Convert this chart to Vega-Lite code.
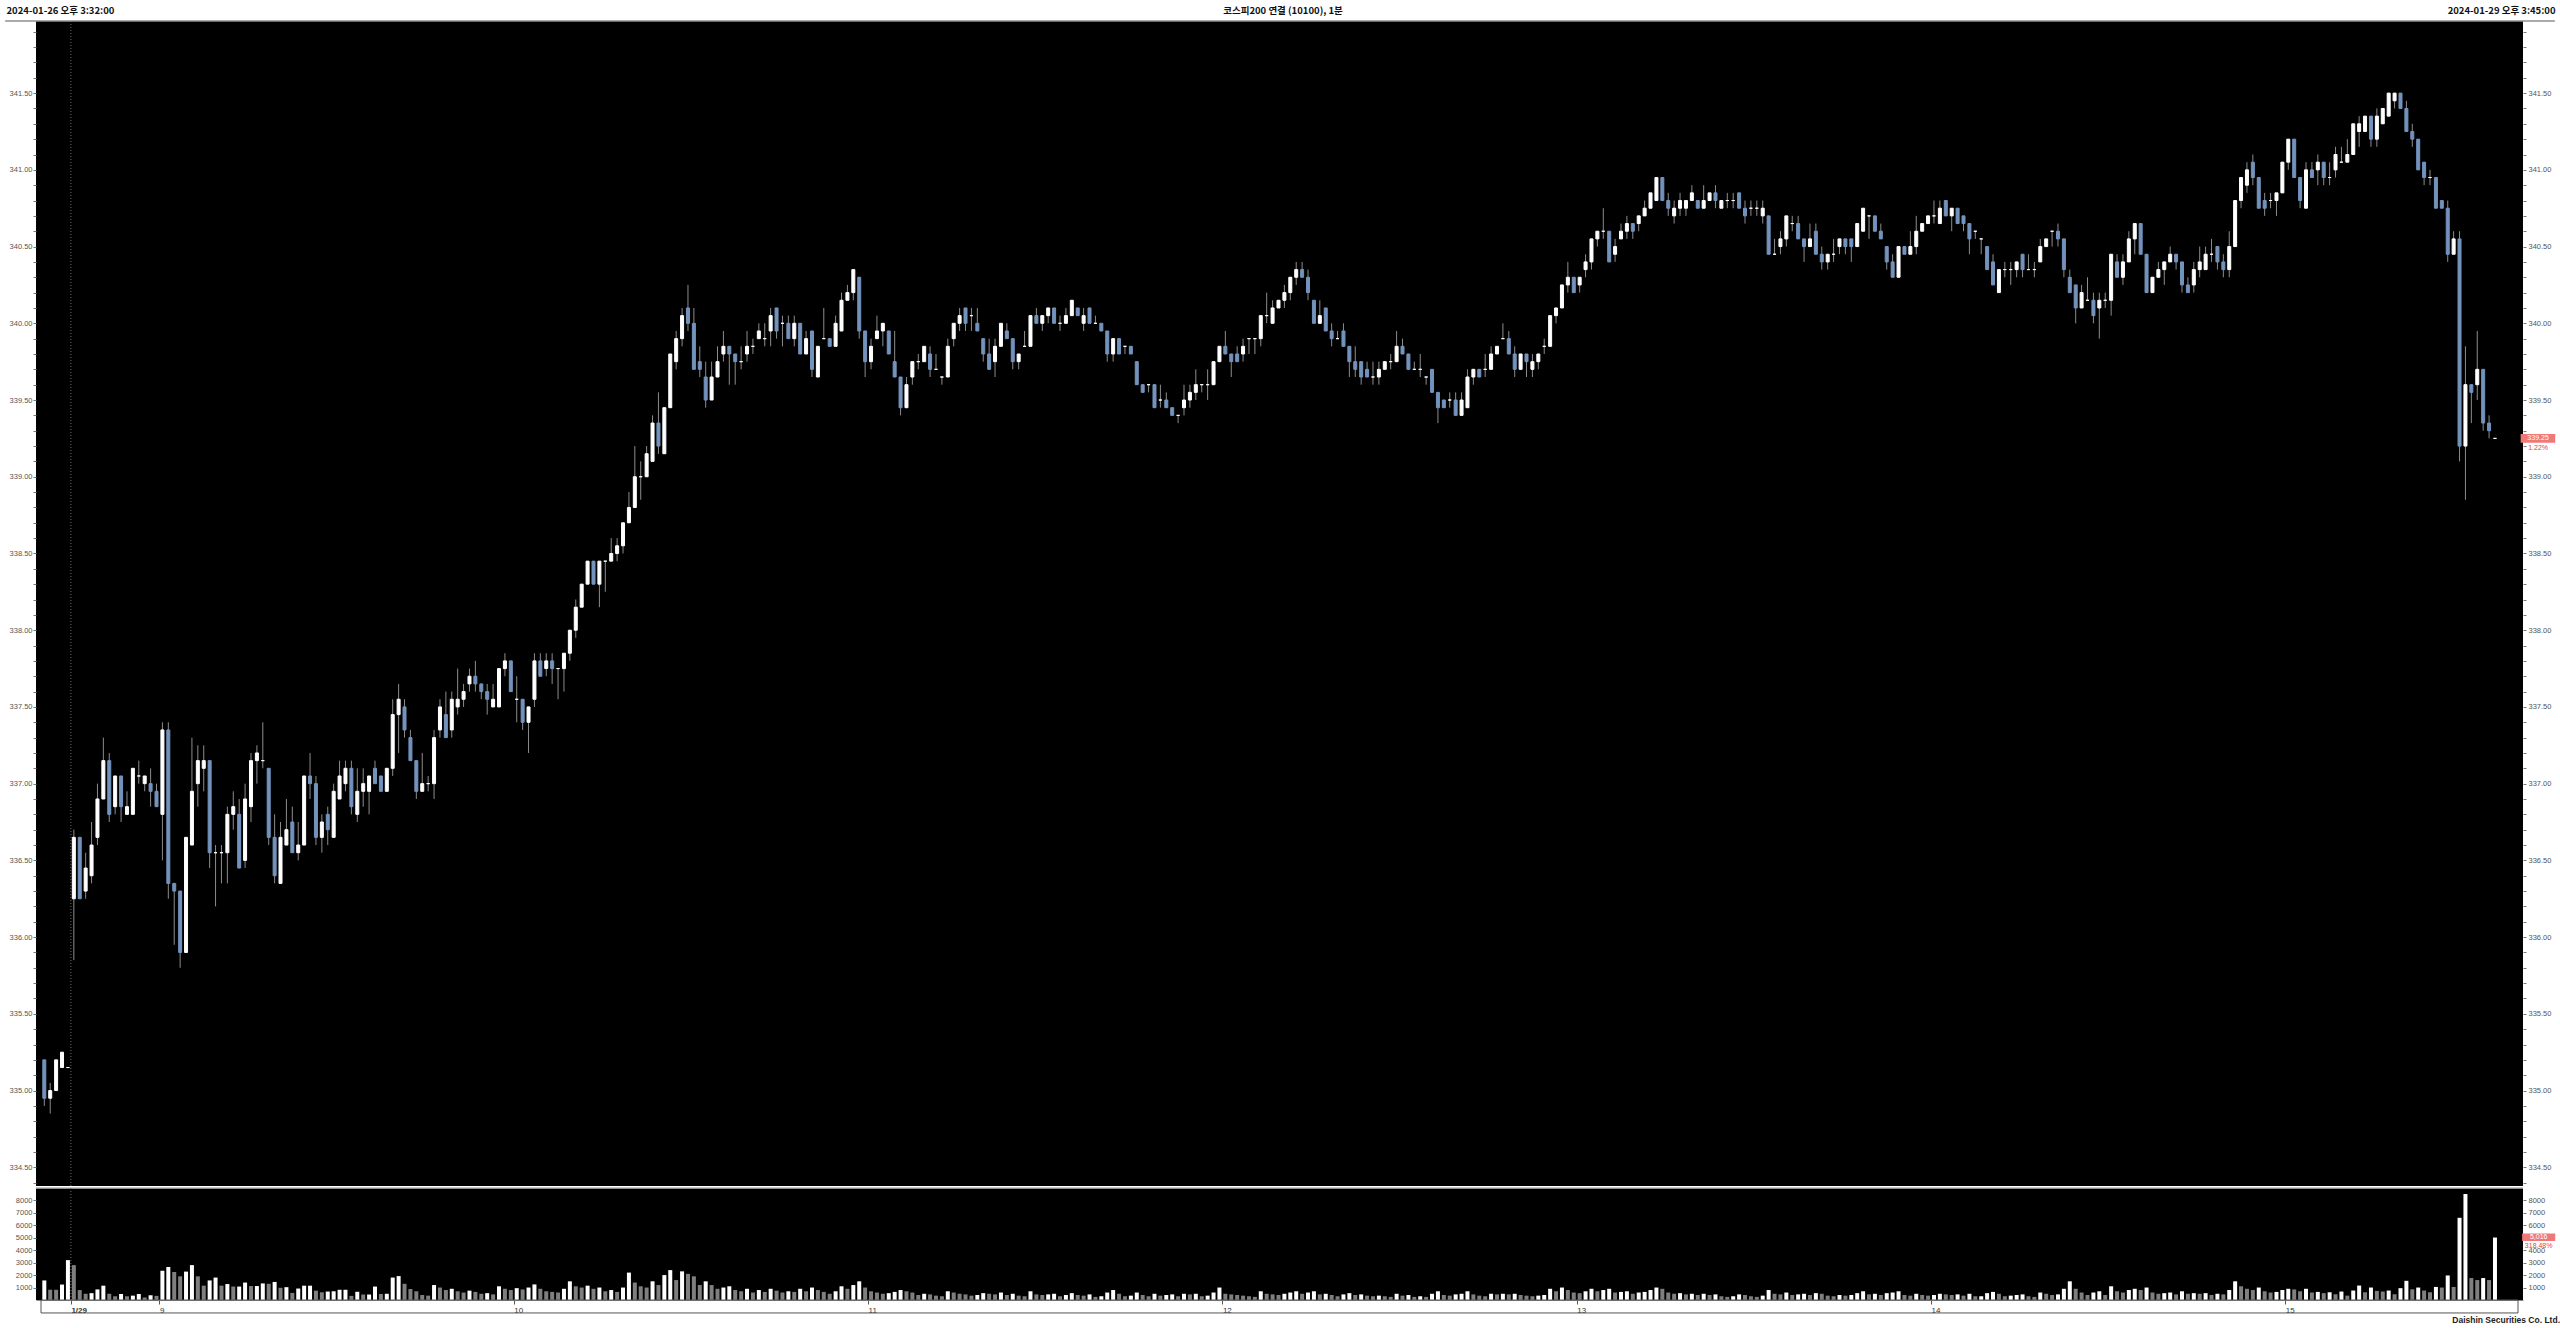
{
"$schema":"https://vega.github.io/schema/vega-lite/v6.json",
"padding":0,
"background":"#ffffff",
"spacing":0,
"config":{"view":{"stroke":null,"fill":"#000000"},"axis":{"grid":false,"title":null,"labelFont":"Liberation Sans","labelFontSize":7.5,"labelColor":"#555555","tickColor":"#777777","domain":false,"labelOverlap":false,"labelBound":false}},
"title":{"text":"Daishin Securities Co. Ltd.","orient":"bottom","anchor":"end","font":"Liberation Sans","fontSize":8.5,"fontWeight":"bold","color":"#222222","offset":2},
"datasets":{"k":[
{"i":0,"o":335.2,"h":335.2,"l":334.9,"c":334.95,"v":1570},
{"i":1,"o":334.95,"h":335.05,"l":334.85,"c":335.0,"v":825},
{"i":2,"o":335.0,"h":335.2,"l":335.0,"c":335.2,"v":820},
{"i":3,"o":335.15,"h":335.25,"l":335.15,"c":335.25,"v":1240},
{"i":4,"o":335.15,"h":335.15,"l":335.15,"c":335.15,"v":3200},
{"i":5,"o":336.25,"h":336.7,"l":335.85,"c":336.65,"v":2800},
{"i":6,"o":336.65,"h":336.65,"l":336.25,"c":336.25,"v":800},
{"i":7,"o":336.3,"h":336.55,"l":336.25,"c":336.45,"v":500},
{"i":8,"o":336.4,"h":336.75,"l":336.35,"c":336.6,"v":550},
{"i":9,"o":336.65,"h":337.0,"l":336.6,"c":336.9,"v":850},
{"i":10,"o":336.9,"h":337.3,"l":336.9,"c":337.15,"v":1150},
{"i":11,"o":337.15,"h":337.2,"l":336.75,"c":336.8,"v":500},
{"i":12,"o":336.85,"h":337.05,"l":336.8,"c":337.05,"v":300},
{"i":13,"o":337.05,"h":337.05,"l":336.75,"c":336.85,"v":480},
{"i":14,"o":336.8,"h":336.95,"l":336.8,"c":336.85,"v":300},
{"i":15,"o":336.8,"h":337.1,"l":336.8,"c":337.1,"v":350},
{"i":16,"o":337.05,"h":337.15,"l":337.0,"c":337.05,"v":480},
{"i":17,"o":337.0,"h":337.05,"l":336.95,"c":337.05,"v":200},
{"i":18,"o":337.0,"h":337.1,"l":336.85,"c":336.95,"v":380},
{"i":19,"o":336.95,"h":337.0,"l":336.85,"c":336.85,"v":330},
{"i":20,"o":336.8,"h":337.4,"l":336.5,"c":337.35,"v":2350},
{"i":21,"o":337.35,"h":337.4,"l":336.25,"c":336.35,"v":2650},
{"i":22,"o":336.35,"h":336.35,"l":335.95,"c":336.3,"v":2250},
{"i":23,"o":336.3,"h":336.3,"l":335.8,"c":335.9,"v":1900},
{"i":24,"o":335.9,"h":336.65,"l":335.9,"c":336.65,"v":2280},
{"i":25,"o":336.6,"h":337.3,"l":336.6,"c":336.95,"v":2800},
{"i":26,"o":337.0,"h":337.25,"l":336.85,"c":337.15,"v":1900},
{"i":27,"o":337.1,"h":337.25,"l":336.95,"c":337.15,"v":1150},
{"i":28,"o":337.15,"h":337.15,"l":336.45,"c":336.55,"v":1570},
{"i":29,"o":336.55,"h":336.6,"l":336.2,"c":336.55,"v":1800},
{"i":30,"o":336.55,"h":336.6,"l":336.35,"c":336.55,"v":1150},
{"i":31,"o":336.55,"h":336.85,"l":336.35,"c":336.8,"v":1280},
{"i":32,"o":336.8,"h":336.95,"l":336.7,"c":336.85,"v":1080},
{"i":33,"o":336.8,"h":336.9,"l":336.45,"c":336.45,"v":1080},
{"i":34,"o":336.5,"h":337.0,"l":336.45,"c":336.9,"v":1400},
{"i":35,"o":336.85,"h":337.2,"l":336.75,"c":337.15,"v":1120},
{"i":36,"o":337.15,"h":337.25,"l":337.0,"c":337.2,"v":1120},
{"i":37,"o":337.15,"h":337.4,"l":337.1,"c":337.15,"v":1330},
{"i":38,"o":337.1,"h":337.1,"l":336.6,"c":336.65,"v":1300},
{"i":39,"o":336.65,"h":336.8,"l":336.35,"c":336.4,"v":1450},
{"i":40,"o":336.35,"h":336.75,"l":336.35,"c":336.65,"v":980},
{"i":41,"o":336.6,"h":336.9,"l":336.6,"c":336.7,"v":1030},
{"i":42,"o":336.75,"h":336.85,"l":336.55,"c":336.55,"v":570},
{"i":43,"o":336.55,"h":336.75,"l":336.5,"c":336.6,"v":920},
{"i":44,"o":336.6,"h":337.05,"l":336.6,"c":337.05,"v":1150},
{"i":45,"o":337.05,"h":337.2,"l":336.9,"c":337.0,"v":1150},
{"i":46,"o":337.0,"h":337.05,"l":336.6,"c":336.65,"v":750},
{"i":47,"o":336.65,"h":336.8,"l":336.55,"c":336.75,"v":620},
{"i":48,"o":336.8,"h":336.85,"l":336.6,"c":336.7,"v":680},
{"i":49,"o":336.65,"h":337.0,"l":336.65,"c":336.95,"v":700},
{"i":50,"o":336.9,"h":337.15,"l":336.9,"c":337.05,"v":820},
{"i":51,"o":337.0,"h":337.15,"l":336.95,"c":337.1,"v":820},
{"i":52,"o":337.1,"h":337.15,"l":336.8,"c":336.85,"v":330},
{"i":53,"o":336.8,"h":337.1,"l":336.75,"c":336.95,"v":660},
{"i":54,"o":336.95,"h":337.1,"l":336.85,"c":337.0,"v":440},
{"i":55,"o":336.95,"h":337.05,"l":336.8,"c":337.05,"v":440},
{"i":56,"o":337.1,"h":337.15,"l":337.0,"c":337.0,"v":1080},
{"i":57,"o":337.05,"h":337.05,"l":336.95,"c":336.95,"v":480},
{"i":58,"o":336.95,"h":337.1,"l":336.95,"c":337.1,"v":500},
{"i":59,"o":337.1,"h":337.55,"l":337.05,"c":337.45,"v":1800},
{"i":60,"o":337.45,"h":337.65,"l":337.2,"c":337.55,"v":1920},
{"i":61,"o":337.5,"h":337.55,"l":337.3,"c":337.35,"v":1300},
{"i":62,"o":337.3,"h":337.35,"l":337.15,"c":337.15,"v":880},
{"i":63,"o":337.15,"h":337.15,"l":336.9,"c":336.95,"v":700},
{"i":64,"o":336.95,"h":337.2,"l":336.95,"c":337.0,"v":400},
{"i":65,"o":337.0,"h":337.05,"l":336.95,"c":337.0,"v":350},
{"i":66,"o":337.0,"h":337.35,"l":336.9,"c":337.3,"v":1200},
{"i":67,"o":337.35,"h":337.55,"l":337.3,"c":337.5,"v":1000},
{"i":68,"o":337.45,"h":337.6,"l":337.3,"c":337.3,"v":800},
{"i":69,"o":337.35,"h":337.6,"l":337.3,"c":337.55,"v":900},
{"i":70,"o":337.5,"h":337.75,"l":337.45,"c":337.55,"v":700},
{"i":71,"o":337.55,"h":337.65,"l":337.5,"c":337.6,"v":600},
{"i":72,"o":337.65,"h":337.75,"l":337.6,"c":337.7,"v":750},
{"i":73,"o":337.7,"h":337.8,"l":337.6,"c":337.65,"v":650},
{"i":74,"o":337.65,"h":337.65,"l":337.55,"c":337.6,"v":500},
{"i":75,"o":337.6,"h":337.65,"l":337.45,"c":337.55,"v":550},
{"i":76,"o":337.5,"h":337.65,"l":337.5,"c":337.55,"v":450},
{"i":77,"o":337.5,"h":337.75,"l":337.5,"c":337.75,"v":1100},
{"i":78,"o":337.75,"h":337.85,"l":337.7,"c":337.8,"v":900},
{"i":79,"o":337.8,"h":337.8,"l":337.6,"c":337.6,"v":800},
{"i":80,"o":337.55,"h":337.7,"l":337.4,"c":337.55,"v":950},
{"i":81,"o":337.55,"h":337.55,"l":337.35,"c":337.4,"v":850},
{"i":82,"o":337.4,"h":337.5,"l":337.2,"c":337.5,"v":1000},
{"i":83,"o":337.55,"h":337.85,"l":337.5,"c":337.8,"v":1250},
{"i":84,"o":337.8,"h":337.85,"l":337.7,"c":337.7,"v":900},
{"i":85,"o":337.75,"h":337.85,"l":337.7,"c":337.8,"v":700},
{"i":86,"o":337.8,"h":337.85,"l":337.65,"c":337.75,"v":650},
{"i":87,"o":337.75,"h":337.75,"l":337.55,"c":337.75,"v":600},
{"i":88,"o":337.75,"h":337.85,"l":337.6,"c":337.85,"v":900},
{"i":89,"o":337.85,"h":338.0,"l":337.8,"c":338.0,"v":1500},
{"i":90,"o":338.0,"h":338.2,"l":337.95,"c":338.15,"v":1100},
{"i":91,"o":338.15,"h":338.3,"l":338.15,"c":338.3,"v":1000},
{"i":92,"o":338.3,"h":338.45,"l":338.3,"c":338.45,"v":1150},
{"i":93,"o":338.45,"h":338.45,"l":338.3,"c":338.3,"v":900},
{"i":94,"o":338.3,"h":338.45,"l":338.15,"c":338.45,"v":1000},
{"i":95,"o":338.45,"h":338.45,"l":338.25,"c":338.45,"v":700},
{"i":96,"o":338.45,"h":338.6,"l":338.45,"c":338.5,"v":800},
{"i":97,"o":338.5,"h":338.6,"l":338.45,"c":338.55,"v":650},
{"i":98,"o":338.55,"h":338.7,"l":338.5,"c":338.7,"v":1000},
{"i":99,"o":338.7,"h":338.9,"l":338.7,"c":338.8,"v":2200},
{"i":100,"o":338.8,"h":339.2,"l":338.8,"c":339.0,"v":1400},
{"i":101,"o":339.0,"h":339.1,"l":338.85,"c":339.0,"v":1100},
{"i":102,"o":339.0,"h":339.2,"l":339.0,"c":339.15,"v":1000},
{"i":103,"o":339.1,"h":339.4,"l":339.1,"c":339.35,"v":1500},
{"i":104,"o":339.35,"h":339.55,"l":339.15,"c":339.2,"v":1200},
{"i":105,"o":339.15,"h":339.45,"l":339.15,"c":339.45,"v":2000},
{"i":106,"o":339.45,"h":339.8,"l":339.45,"c":339.8,"v":2400},
{"i":107,"o":339.75,"h":339.95,"l":339.7,"c":339.9,"v":1600},
{"i":108,"o":339.9,"h":340.1,"l":339.85,"c":340.05,"v":2300},
{"i":109,"o":340.1,"h":340.25,"l":339.95,"c":340.0,"v":2100},
{"i":110,"o":340.0,"h":340.1,"l":339.7,"c":339.7,"v":1900},
{"i":111,"o":339.75,"h":339.85,"l":339.65,"c":339.7,"v":1200},
{"i":112,"o":339.65,"h":339.75,"l":339.45,"c":339.5,"v":1500},
{"i":113,"o":339.5,"h":339.75,"l":339.5,"c":339.65,"v":1200},
{"i":114,"o":339.65,"h":339.85,"l":339.65,"c":339.75,"v":900},
{"i":115,"o":339.8,"h":339.95,"l":339.75,"c":339.85,"v":1000},
{"i":116,"o":339.85,"h":339.85,"l":339.6,"c":339.8,"v":1100},
{"i":117,"o":339.8,"h":339.8,"l":339.6,"c":339.75,"v":800},
{"i":118,"o":339.75,"h":339.85,"l":339.7,"c":339.75,"v":700},
{"i":119,"o":339.8,"h":339.95,"l":339.75,"c":339.85,"v":900},
{"i":120,"o":339.85,"h":339.9,"l":339.8,"c":339.85,"v":600},
{"i":121,"o":339.9,"h":340.0,"l":339.9,"c":339.95,"v":800},
{"i":122,"o":339.9,"h":340.0,"l":339.85,"c":339.9,"v":650},
{"i":123,"o":339.95,"h":340.1,"l":339.85,"c":340.05,"v":900},
{"i":124,"o":340.1,"h":340.1,"l":339.9,"c":339.95,"v":750},
{"i":125,"o":340.0,"h":340.05,"l":339.85,"c":340.0,"v":600},
{"i":126,"o":340.0,"h":340.05,"l":339.9,"c":339.9,"v":700},
{"i":127,"o":339.9,"h":340.05,"l":339.85,"c":340.0,"v":650},
{"i":128,"o":340.0,"h":340.0,"l":339.8,"c":339.8,"v":900},
{"i":129,"o":339.8,"h":339.95,"l":339.8,"c":339.9,"v":700},
{"i":130,"o":339.95,"h":339.95,"l":339.65,"c":339.7,"v":1000},
{"i":131,"o":339.65,"h":339.85,"l":339.65,"c":339.85,"v":800},
{"i":132,"o":339.9,"h":340.1,"l":339.9,"c":339.9,"v":650},
{"i":133,"o":339.9,"h":339.9,"l":339.85,"c":339.85,"v":500},
{"i":134,"o":339.85,"h":340.05,"l":339.85,"c":340.0,"v":700},
{"i":135,"o":339.95,"h":340.2,"l":339.95,"c":340.15,"v":1100},
{"i":136,"o":340.15,"h":340.25,"l":340.15,"c":340.2,"v":900},
{"i":137,"o":340.2,"h":340.35,"l":340.15,"c":340.35,"v":1200},
{"i":138,"o":340.3,"h":340.3,"l":339.9,"c":339.95,"v":1500},
{"i":139,"o":339.95,"h":339.95,"l":339.65,"c":339.75,"v":1000},
{"i":140,"o":339.75,"h":339.9,"l":339.7,"c":339.85,"v":700},
{"i":141,"o":339.9,"h":340.05,"l":339.9,"c":339.95,"v":600},
{"i":142,"o":339.95,"h":340.0,"l":339.85,"c":340.0,"v":500},
{"i":143,"o":339.95,"h":339.95,"l":339.8,"c":339.8,"v":550},
{"i":144,"o":339.75,"h":339.95,"l":339.65,"c":339.65,"v":650},
{"i":145,"o":339.65,"h":339.65,"l":339.4,"c":339.45,"v":800},
{"i":146,"o":339.45,"h":339.65,"l":339.45,"c":339.6,"v":700},
{"i":147,"o":339.65,"h":339.75,"l":339.6,"c":339.75,"v":600},
{"i":148,"o":339.75,"h":339.8,"l":339.7,"c":339.75,"v":400},
{"i":149,"o":339.75,"h":339.85,"l":339.75,"c":339.85,"v":500},
{"i":150,"o":339.8,"h":339.85,"l":339.65,"c":339.7,"v":450},
{"i":151,"o":339.7,"h":339.8,"l":339.7,"c":339.7,"v":350},
{"i":152,"o":339.65,"h":339.65,"l":339.6,"c":339.65,"v":300},
{"i":153,"o":339.65,"h":339.9,"l":339.65,"c":339.85,"v":700},
{"i":154,"o":339.9,"h":340.0,"l":339.85,"c":340.0,"v":600},
{"i":155,"o":340.0,"h":340.1,"l":339.95,"c":340.05,"v":500},
{"i":156,"o":340.1,"h":340.1,"l":339.95,"c":340.0,"v":450},
{"i":157,"o":340.05,"h":340.1,"l":339.95,"c":340.05,"v":350},
{"i":158,"o":340.0,"h":340.1,"l":339.95,"c":339.95,"v":400},
{"i":159,"o":339.9,"h":339.9,"l":339.75,"c":339.8,"v":550},
{"i":160,"o":339.8,"h":339.9,"l":339.7,"c":339.7,"v":500},
{"i":161,"o":339.75,"h":339.9,"l":339.65,"c":339.85,"v":450},
{"i":162,"o":339.85,"h":340.0,"l":339.85,"c":340.0,"v":600},
{"i":163,"o":339.95,"h":340.0,"l":339.9,"c":339.9,"v":400},
{"i":164,"o":339.9,"h":339.9,"l":339.7,"c":339.75,"v":500},
{"i":165,"o":339.75,"h":339.8,"l":339.7,"c":339.8,"v":350},
{"i":166,"o":339.85,"h":339.95,"l":339.85,"c":339.85,"v":300},
{"i":167,"o":339.85,"h":340.05,"l":339.85,"c":340.05,"v":700},
{"i":168,"o":340.05,"h":340.1,"l":340.0,"c":340.0,"v":450},
{"i":169,"o":340.0,"h":340.05,"l":339.95,"c":340.05,"v":400},
{"i":170,"o":340.05,"h":340.1,"l":340.0,"c":340.1,"v":450},
{"i":171,"o":340.1,"h":340.1,"l":340.0,"c":340.0,"v":500},
{"i":172,"o":340.0,"h":340.05,"l":339.95,"c":340.0,"v":300},
{"i":173,"o":340.0,"h":340.1,"l":340.0,"c":340.05,"v":400},
{"i":174,"o":340.05,"h":340.15,"l":340.05,"c":340.15,"v":550},
{"i":175,"o":340.1,"h":340.1,"l":340.05,"c":340.05,"v":400},
{"i":176,"o":340.0,"h":340.1,"l":339.95,"c":340.05,"v":350},
{"i":177,"o":340.1,"h":340.1,"l":340.0,"c":340.0,"v":450},
{"i":178,"o":340.0,"h":340.05,"l":340.0,"c":340.0,"v":250},
{"i":179,"o":340.0,"h":340.0,"l":339.95,"c":339.95,"v":300},
{"i":180,"o":339.95,"h":339.95,"l":339.75,"c":339.8,"v":600},
{"i":181,"o":339.8,"h":339.9,"l":339.75,"c":339.9,"v":800},
{"i":182,"o":339.9,"h":339.9,"l":339.8,"c":339.8,"v":500},
{"i":183,"o":339.85,"h":339.85,"l":339.8,"c":339.85,"v":300},
{"i":184,"o":339.85,"h":339.85,"l":339.8,"c":339.8,"v":350},
{"i":185,"o":339.75,"h":339.75,"l":339.6,"c":339.6,"v":600},
{"i":186,"o":339.6,"h":339.6,"l":339.55,"c":339.55,"v":400},
{"i":187,"o":339.6,"h":339.6,"l":339.55,"c":339.6,"v":300},
{"i":188,"o":339.6,"h":339.6,"l":339.45,"c":339.45,"v":500},
{"i":189,"o":339.5,"h":339.6,"l":339.45,"c":339.5,"v":350},
{"i":190,"o":339.5,"h":339.55,"l":339.45,"c":339.45,"v":400},
{"i":191,"o":339.45,"h":339.45,"l":339.4,"c":339.4,"v":450},
{"i":192,"o":339.4,"h":339.4,"l":339.35,"c":339.4,"v":300},
{"i":193,"o":339.45,"h":339.6,"l":339.4,"c":339.5,"v":500},
{"i":194,"o":339.5,"h":339.6,"l":339.45,"c":339.55,"v":450},
{"i":195,"o":339.55,"h":339.7,"l":339.5,"c":339.6,"v":500},
{"i":196,"o":339.6,"h":339.6,"l":339.55,"c":339.6,"v":300},
{"i":197,"o":339.6,"h":339.7,"l":339.5,"c":339.6,"v":350},
{"i":198,"o":339.6,"h":339.75,"l":339.6,"c":339.75,"v":600},
{"i":199,"o":339.75,"h":339.85,"l":339.75,"c":339.85,"v":1000},
{"i":200,"o":339.85,"h":339.95,"l":339.8,"c":339.8,"v":500},
{"i":201,"o":339.8,"h":339.8,"l":339.65,"c":339.75,"v":450},
{"i":202,"o":339.8,"h":339.85,"l":339.75,"c":339.75,"v":400},
{"i":203,"o":339.8,"h":339.9,"l":339.75,"c":339.85,"v":350},
{"i":204,"o":339.9,"h":339.9,"l":339.8,"c":339.9,"v":300},
{"i":205,"o":339.9,"h":339.9,"l":339.8,"c":339.9,"v":250},
{"i":206,"o":339.9,"h":340.05,"l":339.85,"c":340.05,"v":700},
{"i":207,"o":340.05,"h":340.2,"l":340.0,"c":340.05,"v":500},
{"i":208,"o":340.0,"h":340.15,"l":340.0,"c":340.1,"v":450},
{"i":209,"o":340.1,"h":340.15,"l":340.1,"c":340.15,"v":400},
{"i":210,"o":340.15,"h":340.25,"l":340.1,"c":340.2,"v":500},
{"i":211,"o":340.2,"h":340.3,"l":340.15,"c":340.3,"v":600},
{"i":212,"o":340.3,"h":340.4,"l":340.25,"c":340.35,"v":700},
{"i":213,"o":340.35,"h":340.4,"l":340.3,"c":340.3,"v":500},
{"i":214,"o":340.3,"h":340.35,"l":340.15,"c":340.2,"v":600},
{"i":215,"o":340.15,"h":340.15,"l":340.0,"c":340.0,"v":700},
{"i":216,"o":340.0,"h":340.15,"l":340.0,"c":340.05,"v":450},
{"i":217,"o":340.1,"h":340.1,"l":339.95,"c":339.95,"v":500},
{"i":218,"o":339.95,"h":340.0,"l":339.85,"c":339.9,"v":400},
{"i":219,"o":339.9,"h":339.95,"l":339.9,"c":339.9,"v":300},
{"i":220,"o":339.95,"h":340.0,"l":339.85,"c":339.85,"v":450},
{"i":221,"o":339.85,"h":339.85,"l":339.65,"c":339.75,"v":550},
{"i":222,"o":339.75,"h":339.85,"l":339.65,"c":339.7,"v":400},
{"i":223,"o":339.75,"h":339.75,"l":339.6,"c":339.65,"v":450},
{"i":224,"o":339.7,"h":339.75,"l":339.65,"c":339.65,"v":350},
{"i":225,"o":339.65,"h":339.75,"l":339.6,"c":339.65,"v":300},
{"i":226,"o":339.65,"h":339.75,"l":339.6,"c":339.7,"v":350},
{"i":227,"o":339.7,"h":339.75,"l":339.7,"c":339.75,"v":300},
{"i":228,"o":339.75,"h":339.8,"l":339.7,"c":339.75,"v":250},
{"i":229,"o":339.75,"h":339.95,"l":339.75,"c":339.85,"v":500},
{"i":230,"o":339.85,"h":339.9,"l":339.8,"c":339.8,"v":350},
{"i":231,"o":339.8,"h":339.8,"l":339.7,"c":339.7,"v":400},
{"i":232,"o":339.7,"h":339.75,"l":339.7,"c":339.7,"v":250},
{"i":233,"o":339.7,"h":339.8,"l":339.65,"c":339.7,"v":300},
{"i":234,"o":339.65,"h":339.65,"l":339.6,"c":339.65,"v":250},
{"i":235,"o":339.7,"h":339.7,"l":339.55,"c":339.55,"v":500},
{"i":236,"o":339.55,"h":339.55,"l":339.35,"c":339.45,"v":700},
{"i":237,"o":339.5,"h":339.5,"l":339.45,"c":339.45,"v":400},
{"i":238,"o":339.5,"h":339.55,"l":339.45,"c":339.5,"v":350},
{"i":239,"o":339.5,"h":339.55,"l":339.4,"c":339.4,"v":450},
{"i":240,"o":339.4,"h":339.55,"l":339.4,"c":339.5,"v":500},
{"i":241,"o":339.45,"h":339.7,"l":339.45,"c":339.65,"v":700},
{"i":242,"o":339.65,"h":339.7,"l":339.6,"c":339.7,"v":450},
{"i":243,"o":339.7,"h":339.7,"l":339.65,"c":339.65,"v":350},
{"i":244,"o":339.7,"h":339.8,"l":339.65,"c":339.7,"v":300},
{"i":245,"o":339.7,"h":339.85,"l":339.7,"c":339.8,"v":500},
{"i":246,"o":339.8,"h":339.85,"l":339.8,"c":339.85,"v":450},
{"i":247,"o":339.9,"h":340.0,"l":339.9,"c":339.9,"v":500},
{"i":248,"o":339.9,"h":339.95,"l":339.8,"c":339.8,"v":450},
{"i":249,"o":339.8,"h":339.85,"l":339.65,"c":339.7,"v":500},
{"i":250,"o":339.7,"h":339.8,"l":339.7,"c":339.8,"v":400},
{"i":251,"o":339.8,"h":339.8,"l":339.65,"c":339.75,"v":350},
{"i":252,"o":339.7,"h":339.8,"l":339.65,"c":339.75,"v":300},
{"i":253,"o":339.75,"h":339.8,"l":339.7,"c":339.8,"v":350},
{"i":254,"o":339.85,"h":339.9,"l":339.8,"c":339.85,"v":400},
{"i":255,"o":339.85,"h":340.05,"l":339.85,"c":340.05,"v":900},
{"i":256,"o":340.05,"h":340.1,"l":340.0,"c":340.1,"v":700},
{"i":257,"o":340.1,"h":340.25,"l":340.1,"c":340.25,"v":1000},
{"i":258,"o":340.25,"h":340.4,"l":340.2,"c":340.3,"v":800},
{"i":259,"o":340.3,"h":340.3,"l":340.2,"c":340.2,"v":600},
{"i":260,"o":340.25,"h":340.3,"l":340.2,"c":340.3,"v":550},
{"i":261,"o":340.35,"h":340.45,"l":340.3,"c":340.4,"v":700},
{"i":262,"o":340.4,"h":340.55,"l":340.35,"c":340.55,"v":900},
{"i":263,"o":340.55,"h":340.6,"l":340.5,"c":340.6,"v":700},
{"i":264,"o":340.6,"h":340.75,"l":340.55,"c":340.6,"v":800},
{"i":265,"o":340.6,"h":340.6,"l":340.4,"c":340.4,"v":900},
{"i":266,"o":340.45,"h":340.55,"l":340.4,"c":340.5,"v":600},
{"i":267,"o":340.55,"h":340.65,"l":340.55,"c":340.6,"v":650},
{"i":268,"o":340.6,"h":340.7,"l":340.55,"c":340.65,"v":700},
{"i":269,"o":340.65,"h":340.65,"l":340.55,"c":340.6,"v":500},
{"i":270,"o":340.65,"h":340.7,"l":340.6,"c":340.7,"v":600},
{"i":271,"o":340.7,"h":340.8,"l":340.7,"c":340.75,"v":650},
{"i":272,"o":340.75,"h":340.85,"l":340.75,"c":340.85,"v":800},
{"i":273,"o":340.8,"h":340.95,"l":340.8,"c":340.95,"v":1000},
{"i":274,"o":340.95,"h":340.95,"l":340.8,"c":340.8,"v":900},
{"i":275,"o":340.8,"h":340.85,"l":340.7,"c":340.75,"v":600},
{"i":276,"o":340.7,"h":340.8,"l":340.65,"c":340.75,"v":500},
{"i":277,"o":340.75,"h":340.85,"l":340.7,"c":340.8,"v":550},
{"i":278,"o":340.75,"h":340.8,"l":340.7,"c":340.8,"v":450},
{"i":279,"o":340.8,"h":340.9,"l":340.8,"c":340.85,"v":500},
{"i":280,"o":340.8,"h":340.8,"l":340.75,"c":340.75,"v":400},
{"i":281,"o":340.75,"h":340.9,"l":340.75,"c":340.8,"v":500},
{"i":282,"o":340.8,"h":340.85,"l":340.8,"c":340.85,"v":400},
{"i":283,"o":340.85,"h":340.9,"l":340.75,"c":340.8,"v":450},
{"i":284,"o":340.75,"h":340.8,"l":340.75,"c":340.8,"v":300},
{"i":285,"o":340.8,"h":340.85,"l":340.75,"c":340.8,"v":250},
{"i":286,"o":340.8,"h":340.85,"l":340.75,"c":340.8,"v":300},
{"i":287,"o":340.85,"h":340.85,"l":340.75,"c":340.75,"v":450},
{"i":288,"o":340.75,"h":340.8,"l":340.65,"c":340.7,"v":400},
{"i":289,"o":340.75,"h":340.8,"l":340.7,"c":340.75,"v":300},
{"i":290,"o":340.75,"h":340.8,"l":340.7,"c":340.75,"v":250},
{"i":291,"o":340.7,"h":340.8,"l":340.65,"c":340.75,"v":350},
{"i":292,"o":340.7,"h":340.7,"l":340.45,"c":340.45,"v":800},
{"i":293,"o":340.45,"h":340.55,"l":340.45,"c":340.45,"v":500},
{"i":294,"o":340.5,"h":340.6,"l":340.45,"c":340.55,"v":450},
{"i":295,"o":340.55,"h":340.7,"l":340.5,"c":340.7,"v":600},
{"i":296,"o":340.65,"h":340.7,"l":340.6,"c":340.65,"v":400},
{"i":297,"o":340.65,"h":340.7,"l":340.55,"c":340.55,"v":450},
{"i":298,"o":340.55,"h":340.55,"l":340.4,"c":340.5,"v":500},
{"i":299,"o":340.5,"h":340.65,"l":340.5,"c":340.55,"v":400},
{"i":300,"o":340.6,"h":340.65,"l":340.45,"c":340.45,"v":550},
{"i":301,"o":340.45,"h":340.5,"l":340.35,"c":340.4,"v":500},
{"i":302,"o":340.4,"h":340.45,"l":340.35,"c":340.45,"v":350},
{"i":303,"o":340.45,"h":340.55,"l":340.4,"c":340.45,"v":300},
{"i":304,"o":340.5,"h":340.55,"l":340.45,"c":340.55,"v":400},
{"i":305,"o":340.55,"h":340.55,"l":340.45,"c":340.5,"v":350},
{"i":306,"o":340.55,"h":340.55,"l":340.4,"c":340.5,"v":400},
{"i":307,"o":340.5,"h":340.65,"l":340.5,"c":340.65,"v":550},
{"i":308,"o":340.6,"h":340.75,"l":340.6,"c":340.75,"v":700},
{"i":309,"o":340.7,"h":340.7,"l":340.55,"c":340.7,"v":450},
{"i":310,"o":340.7,"h":340.7,"l":340.6,"c":340.6,"v":500},
{"i":311,"o":340.6,"h":340.65,"l":340.55,"c":340.55,"v":400},
{"i":312,"o":340.5,"h":340.5,"l":340.35,"c":340.4,"v":550},
{"i":313,"o":340.4,"h":340.45,"l":340.3,"c":340.3,"v":600},
{"i":314,"o":340.3,"h":340.5,"l":340.3,"c":340.5,"v":700},
{"i":315,"o":340.5,"h":340.5,"l":340.45,"c":340.45,"v":400},
{"i":316,"o":340.45,"h":340.6,"l":340.45,"c":340.5,"v":350},
{"i":317,"o":340.5,"h":340.7,"l":340.45,"c":340.6,"v":500},
{"i":318,"o":340.6,"h":340.65,"l":340.6,"c":340.65,"v":400},
{"i":319,"o":340.65,"h":340.7,"l":340.65,"c":340.7,"v":350},
{"i":320,"o":340.7,"h":340.8,"l":340.65,"c":340.7,"v":400},
{"i":321,"o":340.65,"h":340.8,"l":340.65,"c":340.75,"v":500},
{"i":322,"o":340.8,"h":340.8,"l":340.7,"c":340.7,"v":450},
{"i":323,"o":340.7,"h":340.75,"l":340.6,"c":340.75,"v":400},
{"i":324,"o":340.75,"h":340.75,"l":340.65,"c":340.65,"v":450},
{"i":325,"o":340.7,"h":340.7,"l":340.6,"c":340.65,"v":350},
{"i":326,"o":340.65,"h":340.65,"l":340.45,"c":340.55,"v":500},
{"i":327,"o":340.6,"h":340.6,"l":340.55,"c":340.6,"v":300},
{"i":328,"o":340.55,"h":340.55,"l":340.45,"c":340.55,"v":300},
{"i":329,"o":340.5,"h":340.5,"l":340.35,"c":340.35,"v":550},
{"i":330,"o":340.4,"h":340.45,"l":340.25,"c":340.25,"v":650},
{"i":331,"o":340.2,"h":340.35,"l":340.2,"c":340.35,"v":500},
{"i":332,"o":340.35,"h":340.4,"l":340.3,"c":340.35,"v":300},
{"i":333,"o":340.35,"h":340.4,"l":340.25,"c":340.35,"v":350},
{"i":334,"o":340.35,"h":340.4,"l":340.3,"c":340.4,"v":400},
{"i":335,"o":340.45,"h":340.45,"l":340.3,"c":340.35,"v":450},
{"i":336,"o":340.35,"h":340.45,"l":340.35,"c":340.35,"v":300},
{"i":337,"o":340.35,"h":340.4,"l":340.3,"c":340.35,"v":250},
{"i":338,"o":340.4,"h":340.55,"l":340.4,"c":340.5,"v":600},
{"i":339,"o":340.5,"h":340.55,"l":340.5,"c":340.55,"v":500},
{"i":340,"o":340.6,"h":340.6,"l":340.5,"c":340.6,"v":400},
{"i":341,"o":340.6,"h":340.65,"l":340.5,"c":340.55,"v":450},
{"i":342,"o":340.55,"h":340.55,"l":340.3,"c":340.35,"v":900},
{"i":343,"o":340.3,"h":340.35,"l":340.2,"c":340.2,"v":1500},
{"i":344,"o":340.25,"h":340.25,"l":340.0,"c":340.1,"v":900},
{"i":345,"o":340.1,"h":340.25,"l":340.1,"c":340.2,"v":600},
{"i":346,"o":340.15,"h":340.3,"l":340.15,"c":340.15,"v":400},
{"i":347,"o":340.15,"h":340.2,"l":340.0,"c":340.05,"v":600},
{"i":348,"o":340.1,"h":340.2,"l":339.9,"c":340.15,"v":700},
{"i":349,"o":340.15,"h":340.2,"l":340.1,"c":340.15,"v":400},
{"i":350,"o":340.15,"h":340.45,"l":340.05,"c":340.45,"v":1100},
{"i":351,"o":340.4,"h":340.45,"l":340.3,"c":340.3,"v":700},
{"i":352,"o":340.3,"h":340.45,"l":340.25,"c":340.4,"v":600},
{"i":353,"o":340.4,"h":340.6,"l":340.4,"c":340.55,"v":800},
{"i":354,"o":340.55,"h":340.65,"l":340.45,"c":340.65,"v":900},
{"i":355,"o":340.65,"h":340.65,"l":340.45,"c":340.45,"v":800},
{"i":356,"o":340.45,"h":340.45,"l":340.2,"c":340.2,"v":1000},
{"i":357,"o":340.2,"h":340.3,"l":340.2,"c":340.3,"v":600},
{"i":358,"o":340.3,"h":340.4,"l":340.3,"c":340.35,"v":500},
{"i":359,"o":340.35,"h":340.4,"l":340.25,"c":340.4,"v":550},
{"i":360,"o":340.4,"h":340.5,"l":340.4,"c":340.45,"v":600},
{"i":361,"o":340.45,"h":340.45,"l":340.35,"c":340.4,"v":450},
{"i":362,"o":340.4,"h":340.4,"l":340.2,"c":340.25,"v":700},
{"i":363,"o":340.25,"h":340.3,"l":340.2,"c":340.2,"v":500},
{"i":364,"o":340.25,"h":340.4,"l":340.2,"c":340.35,"v":550},
{"i":365,"o":340.35,"h":340.5,"l":340.3,"c":340.4,"v":500},
{"i":366,"o":340.35,"h":340.5,"l":340.35,"c":340.45,"v":550},
{"i":367,"o":340.45,"h":340.55,"l":340.4,"c":340.45,"v":400},
{"i":368,"o":340.5,"h":340.5,"l":340.35,"c":340.4,"v":500},
{"i":369,"o":340.4,"h":340.45,"l":340.3,"c":340.35,"v":450},
{"i":370,"o":340.35,"h":340.6,"l":340.3,"c":340.5,"v":800},
{"i":371,"o":340.5,"h":340.8,"l":340.5,"c":340.8,"v":1500},
{"i":372,"o":340.8,"h":340.95,"l":340.75,"c":340.95,"v":1100},
{"i":373,"o":340.9,"h":341.05,"l":340.85,"c":341.0,"v":900},
{"i":374,"o":341.05,"h":341.1,"l":340.9,"c":340.95,"v":800},
{"i":375,"o":340.95,"h":340.95,"l":340.75,"c":340.75,"v":1000},
{"i":376,"o":340.8,"h":340.85,"l":340.7,"c":340.75,"v":700},
{"i":377,"o":340.8,"h":340.85,"l":340.75,"c":340.8,"v":600},
{"i":378,"o":340.8,"h":340.85,"l":340.7,"c":340.85,"v":650},
{"i":379,"o":340.85,"h":341.05,"l":340.85,"c":341.05,"v":800},
{"i":380,"o":341.05,"h":341.2,"l":341.0,"c":341.2,"v":900},
{"i":381,"o":341.2,"h":341.2,"l":340.95,"c":340.95,"v":850},
{"i":382,"o":340.95,"h":340.95,"l":340.75,"c":340.8,"v":700},
{"i":383,"o":340.75,"h":341.05,"l":340.75,"c":341.0,"v":900},
{"i":384,"o":341.0,"h":341.05,"l":340.95,"c":340.95,"v":600},
{"i":385,"o":341.0,"h":341.1,"l":340.9,"c":341.05,"v":650},
{"i":386,"o":341.05,"h":341.05,"l":340.9,"c":340.95,"v":550},
{"i":387,"o":340.95,"h":341.05,"l":340.9,"c":340.95,"v":620},
{"i":388,"o":341.0,"h":341.15,"l":340.95,"c":341.1,"v":460},
{"i":389,"o":341.05,"h":341.15,"l":341.05,"c":341.05,"v":680},
{"i":390,"o":341.05,"h":341.2,"l":341.05,"c":341.1,"v":350},
{"i":391,"o":341.1,"h":341.3,"l":341.1,"c":341.3,"v":760},
{"i":392,"o":341.25,"h":341.35,"l":341.15,"c":341.3,"v":1160},
{"i":393,"o":341.25,"h":341.35,"l":341.25,"c":341.35,"v":620},
{"i":394,"o":341.35,"h":341.35,"l":341.15,"c":341.2,"v":1000},
{"i":395,"o":341.2,"h":341.4,"l":341.15,"c":341.35,"v":730},
{"i":396,"o":341.3,"h":341.4,"l":341.3,"c":341.4,"v":680},
{"i":397,"o":341.35,"h":341.5,"l":341.35,"c":341.5,"v":760},
{"i":398,"o":341.45,"h":341.5,"l":341.4,"c":341.5,"v":460},
{"i":399,"o":341.5,"h":341.5,"l":341.4,"c":341.4,"v":950},
{"i":400,"o":341.4,"h":341.45,"l":341.25,"c":341.25,"v":1540},
{"i":401,"o":341.25,"h":341.3,"l":341.15,"c":341.2,"v":860},
{"i":402,"o":341.2,"h":341.2,"l":341.0,"c":341.0,"v":1000},
{"i":403,"o":341.05,"h":341.05,"l":340.9,"c":340.95,"v":760},
{"i":404,"o":340.95,"h":341.0,"l":340.9,"c":340.95,"v":620},
{"i":405,"o":340.95,"h":340.95,"l":340.75,"c":340.75,"v":1050},
{"i":406,"o":340.8,"h":340.8,"l":340.75,"c":340.75,"v":1000},
{"i":407,"o":340.75,"h":340.8,"l":340.4,"c":340.45,"v":1970},
{"i":408,"o":340.45,"h":340.6,"l":340.45,"c":340.55,"v":1050},
{"i":409,"o":340.55,"h":340.6,"l":339.1,"c":339.2,"v":6600},
{"i":410,"o":339.2,"h":339.85,"l":338.85,"c":339.6,"v":8510},
{"i":411,"o":339.6,"h":339.6,"l":339.35,"c":339.55,"v":1760},
{"i":412,"o":339.6,"h":339.95,"l":339.5,"c":339.7,"v":1600},
{"i":413,"o":339.7,"h":339.7,"l":339.3,"c":339.35,"v":1760},
{"i":414,"o":339.35,"h":339.4,"l":339.25,"c":339.3,"v":1600},
{"i":415,"o":339.25,"h":339.25,"l":339.25,"c":339.25,"v":5016}
]},
"vconcat":[
{"width":2487,"height":1165,"data":{"name":"k"},
 "resolve":{"axis":{"x":"independent","y":"independent"}},
 "layer":[
  {"mark":{"type":"rule","color":"#8c8c8c","strokeWidth":1},
   "encoding":{
    "x":{"field":"i","type":"quantitative","scale":{"domain":[-0.56,418.9],"nice":false,"zero":false},
      "axis":{"orient":"top","values":[-0.56,209.17,418.9],"labelExpr":"datum.value < 0 ? '2024-01-26 오후 3:32:00' : (datum.value > 400 ? '2024-01-29 오후 3:45:00' : '코스피200 연결 (10100), 1분')","labelFlush":false,"labelAlign":{"condition":[{"test":"datum.value < 0","value":"left"},{"test":"datum.value > 400","value":"right"}],"value":"center"},"labelOffset":{"condition":[{"test":"datum.value < 0","value":-35},{"test":"datum.value > 400","value":37}],"value":3},"ticks":false,"tickSize":0,"domain":false,"labelFont":"Noto Sans CJK KR","labelFontSize":9.5,"labelFontWeight":"bold","labelColor":"#111111","labelPadding":11,"labelBaseline":"middle","minExtent":21,"maxExtent":21}},
    "y":{"field":"l","type":"quantitative","scale":{"domain":[334.378,341.97],"nice":false,"zero":false},
      "axis":{"orient":"left","values":[334.4,334.5,334.6,334.7,334.8,334.9,335,335.1,335.2,335.3,335.4,335.5,335.6,335.7,335.8,335.9,336,336.1,336.2,336.3,336.4,336.5,336.6,336.7,336.8,336.9,337,337.1,337.2,337.3,337.4,337.5,337.6,337.7,337.8,337.9,338,338.1,338.2,338.3,338.4,338.5,338.6,338.7,338.8,338.9,339,339.1,339.2,339.3,339.4,339.5,339.6,339.7,339.8,339.9,340,340.1,340.2,340.3,340.4,340.5,340.6,340.7,340.8,340.9,341,341.1,341.2,341.3,341.4,341.5,341.6,341.7,341.8,341.9],"labelExpr":"abs(datum.value*2 - round(datum.value*2)) < 0.01 ? format(datum.value, '.2f') : ''","tickSize":3,"labelPadding":1,"labelFlush":false,"minExtent":36,"maxExtent":36}},
    "y2":{"field":"h"}}},
  {"mark":{"type":"bar","size":3,"strokeWidth":1},
   "encoding":{
    "x":{"field":"i","type":"quantitative","scale":{"domain":[-0.56,418.9],"nice":false,"zero":false},"axis":null},
    "y":{"field":"o","type":"quantitative","scale":{"domain":[334.378,341.97],"nice":false,"zero":false},
      "axis":{"orient":"right","values":[334.4,334.5,334.6,334.7,334.8,334.9,335,335.1,335.2,335.3,335.4,335.5,335.6,335.7,335.8,335.9,336,336.1,336.2,336.3,336.4,336.5,336.6,336.7,336.8,336.9,337,337.1,337.2,337.3,337.4,337.5,337.6,337.7,337.8,337.9,338,338.1,338.2,338.3,338.4,338.5,338.6,338.7,338.8,338.9,339,339.1,339.2,339.3,339.4,339.5,339.6,339.7,339.8,339.9,340,340.1,340.2,340.3,340.4,340.5,340.6,340.7,340.8,340.9,341,341.1,341.2,341.3,341.4,341.5,341.6,341.7,341.8,341.9],"labelExpr":"abs(datum.value*2 - round(datum.value*2)) < 0.01 ? format(datum.value, '.2f') : ''","tickSize":3,"labelPadding":2,"labelFlush":false,"minExtent":37,"maxExtent":37}},
    "y2":{"field":"c"},
    "color":{"condition":{"test":"datum.c >= datum.o","value":"#ffffff"},"value":"#7393bd"},
    "stroke":{"condition":{"test":"datum.c >= datum.o","value":"#ffffff"},"value":"#7393bd"}}},
  {"data":{"values":[{"s":4.5}]},
   "mark":{"type":"rule","color":"#6a6a6a","strokeWidth":1,"strokeDash":[1,2]},
   "encoding":{"x":{"field":"s","type":"quantitative","scale":{"domain":[-0.56,418.9],"nice":false,"zero":false},"axis":null}}},
  {"data":{"values":[{"a":-6.63,"b":425.14,"y":341.97}]},
   "mark":{"type":"rule","color":"#8f8f8f","strokeWidth":1.5,"clip":false},
   "encoding":{
    "x":{"field":"a","type":"quantitative","scale":{"domain":[-0.56,418.9],"nice":false,"zero":false},"axis":null},
    "x2":{"field":"b"},
    "y":{"field":"y","type":"quantitative","scale":{"domain":[334.378,341.97],"nice":false,"zero":false},"axis":null}}},
  {"data":{"values":[{"p":339.25,"t":"339.25"}]},
   "mark":{"type":"rect","color":"#f07878","clip":false},
   "encoding":{
    "x":{"datum":419.35,"type":"quantitative","scale":{"domain":[-0.56,418.9],"nice":false,"zero":false},"axis":null},
    "x2":{"datum":425.2},
    "y":{"datum":339.222,"type":"quantitative","scale":{"domain":[334.378,341.97],"nice":false,"zero":false},"axis":null},
    "y2":{"datum":339.278}}},
  {"data":{"values":[{"p":339.25,"t":"339.25","q":339.19,"u":"1.22%"}]},
   "layer":[
    {"mark":{"type":"text","color":"#ffffff","font":"Liberation Sans","fontSize":7,"clip":false,"baseline":"middle"},
     "encoding":{
      "x":{"datum":422.3,"type":"quantitative","scale":{"domain":[-0.56,418.9],"nice":false,"zero":false},"axis":null},
      "y":{"field":"p","type":"quantitative","scale":{"domain":[334.378,341.97],"nice":false,"zero":false},"axis":null},
      "text":{"field":"t"}}},
    {"mark":{"type":"text","color":"#e83c3c","font":"Liberation Sans","fontSize":7,"clip":false,"baseline":"middle"},
     "encoding":{
      "x":{"datum":422.3,"type":"quantitative","scale":{"domain":[-0.56,418.9],"nice":false,"zero":false},"axis":null},
      "y":{"field":"q","type":"quantitative","scale":{"domain":[334.378,341.97],"nice":false,"zero":false},"axis":null},
      "text":{"field":"u"}}}
   ]}
 ]},
{"width":2487,"height":112,"data":{"name":"k"},
 "resolve":{"axis":{"x":"independent","y":"independent"}},
 "layer":[
  {"transform":[{"window":[{"op":"lag","field":"v","as":"pv"}],"sort":[{"field":"i","order":"ascending"}]}],
   "mark":{"type":"bar","size":4},
   "encoding":{
    "x":{"field":"i","type":"quantitative","scale":{"domain":[-0.56,418.9],"nice":false,"zero":false},
      "axis":{"orient":"bottom","values":[4.5,19.5,79.5,139.5,199.5,259.5,319.5,379.5],"labelExpr":"datum.value < 10 ? '1/29' : format(round((datum.value - 19.5)/60) + 9, 'd')","labelAlign":"left","labelFlush":false,"labelBaseline":"top","labelPadding":2,"tickSize":4,"ticks":true,"tickColor":"#555555","domain":true,"domainColor":"#8a8a8a","domainWidth":1,"labelFontSize":8,"labelColor":"#333333","labelFontWeight":{"condition":{"test":"datum.value < 10","value":"bold"},"value":"normal"}}},
    "y":{"field":"v","type":"quantitative","scale":{"domain":[0,8992],"nice":false,"zero":true},
      "axis":{"orient":"left","values":[1000,2000,3000,4000,5000,6000,7000,8000],"format":"d","tickSize":3,"labelPadding":1,"labelFlush":false,"minExtent":36,"maxExtent":36}},
    "color":{"condition":{"test":"datum.pv == null || datum.v >= datum.pv","value":"#ffffff"},"value":"#7f7f7f"}}},
  {"data":{"values":[{"top":8992}]},
   "mark":{"type":"rule","color":"#bdbdbd","strokeWidth":1.5},
   "encoding":{
    "y":{"field":"top","type":"quantitative","scale":{"domain":[0,8992],"nice":false,"zero":true},
      "axis":{"orient":"right","values":[1000,2000,3000,4000,5000,6000,7000,8000],"format":"d","tickSize":3,"labelPadding":2,"labelFlush":false,"minExtent":37,"maxExtent":37}}}},
  {"data":{"values":[{"s":4.5}]},
   "mark":{"type":"rule","color":"#6a6a6a","strokeWidth":1,"strokeDash":[1,2]},
   "encoding":{"x":{"field":"s","type":"quantitative","scale":{"domain":[-0.56,418.9],"nice":false,"zero":false},"axis":null}}},
  {"data":{"values":[{"a":-0.56,"b":418.9,"y0":0,"y1":-1040}]},
   "mark":{"type":"rect","fill":null,"filled":false,"stroke":"#555555","strokeWidth":1,"clip":false},
   "encoding":{
    "x":{"field":"a","type":"quantitative","scale":{"domain":[-0.56,418.9],"nice":false,"zero":false},"axis":null},
    "x2":{"field":"b"},
    "y":{"field":"y0","type":"quantitative","scale":{"domain":[0,8992],"nice":false,"zero":true},"axis":null},
    "y2":{"field":"y1"}}},
  {"data":{"values":[{}]},
   "mark":{"type":"rect","color":"#f07878","clip":false},
   "encoding":{
    "x":{"datum":419.6,"type":"quantitative","scale":{"domain":[-0.56,418.9],"nice":false,"zero":false},"axis":null},
    "x2":{"datum":425.2},
    "y":{"datum":4728,"type":"quantitative","scale":{"domain":[0,8992],"nice":false,"zero":true},"axis":null},
    "y2":{"datum":5336}}},
  {"data":{"values":[{"p":5032,"t":"5,016","q":4330,"u":"318.48%"}]},
   "layer":[
    {"mark":{"type":"text","color":"#ffffff","font":"Liberation Sans","fontSize":7,"clip":false,"baseline":"middle"},
     "encoding":{
      "x":{"datum":422.4,"type":"quantitative","scale":{"domain":[-0.56,418.9],"nice":false,"zero":false},"axis":null},
      "y":{"field":"p","type":"quantitative","scale":{"domain":[0,8992],"nice":false,"zero":true},"axis":null},
      "text":{"field":"t"}}},
    {"mark":{"type":"text","color":"#e83c3c","font":"Liberation Sans","fontSize":7,"clip":false,"baseline":"middle"},
     "encoding":{
      "x":{"datum":422.4,"type":"quantitative","scale":{"domain":[-0.56,418.9],"nice":false,"zero":false},"axis":null},
      "y":{"field":"q","type":"quantitative","scale":{"domain":[0,8992],"nice":false,"zero":true},"axis":null},
      "text":{"field":"u"}}}
   ]}
 ]}
]}
